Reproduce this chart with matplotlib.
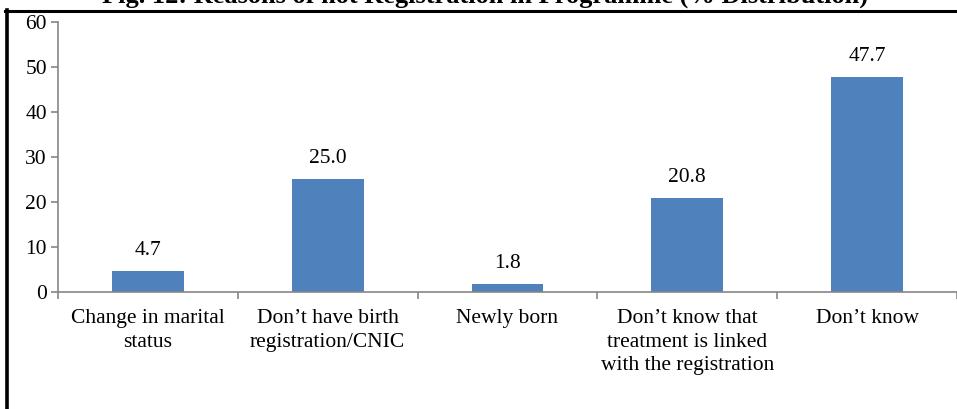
import matplotlib
matplotlib.use("Agg")
import matplotlib.pyplot as plt
from matplotlib.lines import Line2D
import numpy as np

categories = [
    "Change in marital\nstatus",
    "Don\u2019t have birth\nregistration/CNIC",
    "Newly born",
    "Don\u2019t know that\ntreatment is linked\nwith the registration",
    "Don\u2019t know",
]
values = [4.7, 25.0, 1.8, 20.8, 47.7]
y_ticks = [0, 10, 20, 30, 40, 50, 60]
title = "Fig. 12: Reasons of not Registration in Programme (% Distribution)"

plt.rcParams["font.family"] = ["Liberation Serif", "DejaVu Serif"]
W, H = 957, 409
FS = 15.5
fig = plt.figure(figsize=(W / 100, H / 100), dpi=100)
ax = fig.add_axes([58 / W, 1 - 292 / H, 1 - 58 / W, (292 - 22) / H])

x = np.arange(len(categories))
ax.bar(x, values, width=0.4, color="#4F81BD", zorder=2)
for xi, v in zip(x, values):
    ax.annotate(f"{v:.1f}", (xi, v), xytext=(0, 8), textcoords="offset points",
                ha="center", va="bottom", fontsize=FS)

ax.set_xlim(-0.5, len(categories) - 0.5)
ax.set_ylim(0, 60)
ax.set_yticks(y_ticks)
ax.set_xticks(x)
ax.set_xticklabels(categories, fontsize=FS, linespacing=1.35)
ax.set_xticks(np.arange(len(categories) + 1) - 0.5, minor=True)
ax.tick_params(axis="x", which="major", length=0, pad=12)
ax.tick_params(axis="x", which="minor", length=5, color="#868686", width=1.2)
ax.tick_params(axis="y", length=5, color="#868686", width=1.2, labelsize=FS, pad=3)

for side in ("top", "right"):
    ax.spines[side].set_visible(False)
for side in ("left", "bottom"):
    ax.spines[side].set_color("#868686")
    ax.spines[side].set_linewidth(1.2)

# page frame lines
fig.add_artist(Line2D([7 / W, 7 / W], [0, 1 - 10 / H], transform=fig.transFigure,
                      color="black", linewidth=2.6))
fig.add_artist(Line2D([5 / W, 1], [1 - 11 / H, 1 - 11 / H], transform=fig.transFigure,
                      color="black", linewidth=2.2))

fig.text(485 / W, 1 - 3 / H, title, ha="center", va="baseline",
         fontsize=19, fontweight="bold")

fig.savefig("out.png", dpi=100, facecolor="white")
